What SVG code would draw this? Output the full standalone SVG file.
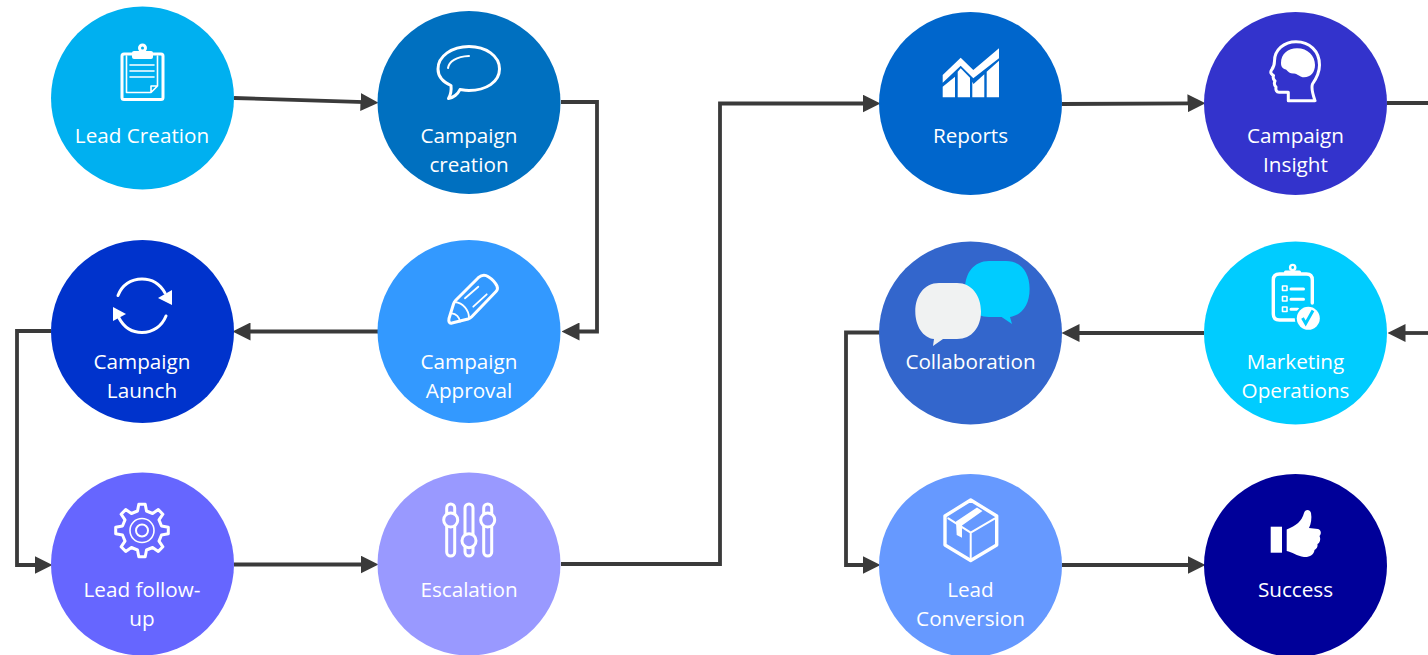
<svg xmlns="http://www.w3.org/2000/svg" width="1428" height="655" viewBox="0 0 1428 655">
<style>
text{font-family:"Open Sans","Noto Sans","Liberation Sans",sans-serif;font-size:20.700px;fill:#fff;text-anchor:middle}
.c{fill:none;stroke:#3a3a3a;stroke-width:3.800}
.i{fill:none;stroke:#fff;stroke-width:3;stroke-linejoin:round;stroke-linecap:round}
.t{stroke-width:1.600}
.f{fill:#fff;stroke:none}
</style>
<defs>
<marker id="a" markerUnits="userSpaceOnUse" markerWidth="18" markerHeight="18" refX="4" refY="8" orient="auto" viewBox="0 0 16 16"><path d="M0 0L16 8L0 16Z" fill="#3a3a3a"/></marker>
</defs>
<rect width="1428" height="655" fill="#fff"/>
<g id="connectors">
<path class="c" marker-end="url(#a)" d="M234 98L365 102.200"/>
<path class="c" marker-end="url(#a)" d="M561 102H597V331.500H575"/>
<path class="c" marker-end="url(#a)" d="M378 331.500H246"/>
<path class="c" marker-end="url(#a)" d="M51 331H17V565H39"/>
<path class="c" marker-end="url(#a)" d="M234 564.500H365"/>
<path class="c" marker-end="url(#a)" d="M561 564H720V103.500H867"/>
<path class="c" marker-end="url(#a)" d="M1062 104L1192 103.300"/>
<path class="c" d="M1387 103H1428"/>
<path class="c" marker-end="url(#a)" d="M1428 333H1401"/>
<path class="c" marker-end="url(#a)" d="M1204 333H1075"/>
<path class="c" marker-end="url(#a)" d="M880 332.500H846V565H867"/>
<path class="c" marker-end="url(#a)" d="M1062 565H1192"/>
</g>
<g id="lead-creation">
<circle cx="142.500" cy="98" r="91.500" fill="#00b0f0"/>
<rect class="i" x="122" y="54" width="41" height="45.500" rx="2"/>
<path class="i t" d="M126.500 56V92.500H151L157.500 86V56M151 92.500V86H157.500M130 65H154M130 71H154M130 77H154"/>
<circle class="i" cx="142.500" cy="48" r="3"/>
<rect class="f" x="132" y="51" width="21" height="8" rx="2"/>
<text x="142" y="143">Lead Creation</text>
</g>
<g id="campaign-creation">
<circle cx="469" cy="102.500" r="91.500" fill="#0070c0"/>
<path class="i" d="M469 46.500C486 46.500 499.500 56 499.500 69C499.500 82 486 90.500 469 90.500C466 90.500 463 90 460 89.500C458 94 453 98 448.500 98.500C450.500 95 451.500 90 451 85.500C443 82 438 76 438 69C438 56 452 46.500 469 46.500Z"/>
<path class="i" style="stroke-width:2" d="M448 68C449 62 456 56.500 469 56"/>
<text x="469" y="143">Campaign</text>
<text x="469" y="172">creation</text>
</g>
<g id="campaign-launch">
<circle cx="142.500" cy="331.500" r="91.500" fill="#0033cc"/>
<path class="i" d="M118 295.500C122 285 131 279 142 279C152 279 160 284 165 293"/>
<path class="f" d="M172 290V305L158 298Z"/>
<path class="i" d="M166 316C162 326 153 332.500 142 332.500C132 332.500 124 327.500 119 318"/>
<path class="f" d="M113 307V321L126 314Z"/>
<text x="142" y="369">Campaign</text>
<text x="142" y="398">Launch</text>
</g>
<g id="campaign-approval">
<circle cx="469" cy="331.500" r="91.500" fill="#3399ff"/>
<path class="i" d="M478.300 277.700C482 274.500 485 274.500 488.300 276.700C492 279 495 282 497 286C497.800 288 497.500 290 496 291.500L471.700 316.700C470.500 318 469.500 318.500 468 319L452 323C449 323.800 448.500 321 449 318.500L453.500 304C454 302.500 454.500 301.500 455.500 300.500Z"/>
<path class="i" style="stroke-width:1.800" d="M455 302C463 303 469 310 469 318M465 298.300L478.300 286.700M473.300 306.700L486.700 294.300M451.700 313.300C456 313.500 459.500 317 460 321.700"/>
<text x="469" y="369">Campaign</text>
<text x="469" y="398">Approval</text>
</g>
<g id="lead-follow-up">
<circle cx="142.500" cy="564" r="91.500" fill="#6666ff"/>
<g transform="translate(142 530.500)">
<path class="i" d="M-4.500-19.500L-3.200-26.300H3.200L4.500-19.500L10.600-17L16.300-20.900L20.900-16.300L17-10.600L19.500-4.500L26.300-3.200V3.200L19.500 4.500L17 10.600L20.900 16.300L16.300 20.900L10.600 17L4.500 19.500L3.200 26.300H-3.200L-4.500 19.500L-10.600 17L-16.300 20.900L-20.900 16.300L-17 10.600L-19.500 4.500L-26.300 3.200V-3.200L-19.500-4.500L-17-10.600L-20.900-16.300L-16.300-20.900L-10.600-17Z"/>
<circle class="i t" r="12"/><circle class="i" style="stroke-width:2" r="6"/>
</g>
<text x="142" y="597">Lead follow-</text>
<text x="142" y="626">up</text>
</g>
<g id="escalation">
<circle cx="469" cy="564" r="91.500" fill="#9999ff"/>
<rect class="i" x="446.700" y="504" width="8" height="52" rx="4"/>
<rect class="i" x="465" y="504" width="8" height="52" rx="4"/>
<rect class="i" x="483.700" y="504" width="8" height="52" rx="4"/>
<circle class="i" cx="450.700" cy="520" r="7" style="fill:#9999ff"/>
<circle class="i" cx="469" cy="540.700" r="7" style="fill:#9999ff"/>
<circle class="i" cx="487.700" cy="520" r="7" style="fill:#9999ff"/>
<text x="469" y="597">Escalation</text>
</g>
<g id="reports">
<circle cx="970.500" cy="103.500" r="91.500" fill="#0066cc"/>
<path class="f" d="M942.700 75L960.700 57.700L973.300 70L999 48.300V58.300L973.300 78.300L960.700 65.700L942.700 82.700Z"/>
<path class="f" d="M942.700 97.300V86.700L955 76.700V97.300ZM957.700 97.300V71.700L960.700 68.300L970 77.700V97.300ZM972.300 97.300V81.700L973.500 84L984.300 74.300V97.300ZM986.700 97.300V71.700L999 60.700V97.300Z"/>
<text x="970.500" y="143">Reports</text>
</g>
<g id="campaign-insight">
<circle cx="1295.500" cy="103.500" r="91.500" fill="#3333cc"/>
<path class="i" d="M1315 100.700H1288.300V92.300H1279C1276.500 92.300 1275.500 90 1276 87C1274 85 1274 83 1275 81C1272.500 79 1273 77 1273.500 75.500C1271 74 1270 72.500 1271.500 70C1274 67 1274.500 65 1274.500 61C1274.500 50 1284 41.700 1296 41.700C1309.500 41.700 1319.500 51 1319.500 65C1319.500 73 1316 79 1312.500 84C1311 88 1313 95 1315 100.700Z"/>
<path class="f" d="M1281 63C1281 54 1288 48.300 1297 48.300C1308 48.300 1315 56 1315 65C1315 72 1311 77.300 1304 77.300C1300 77.300 1298 74 1294 73.500C1291 74 1288 72 1286 69.500C1283 69 1281 67 1281 63Z"/>
<text x="1295.500" y="143">Campaign</text>
<text x="1295.500" y="172">Insight</text>
</g>
<g id="collaboration">
<circle cx="970.500" cy="333" r="91.500" fill="#3366cc"/>
<path fill="#00ccff" d="M1001.600 317H989C974 317 965 305 965 289C965 273 974 261 989 261H1006C1021 261 1029.600 273 1029.600 289C1029.600 305 1022 315 1010 317L1012 324Z"/>
<path fill="#f0f2f2" d="M939 283H957C972 283 981 296 981 311.500C981 327 972 339 957 339H943L933 346L934 339C923 338 915.300 326 915.300 311.500C915.300 296 924 283 939 283Z"/>
<text x="970.500" y="369">Collaboration</text>
</g>
<g id="marketing-operations">
<circle cx="1295.500" cy="333" r="91.500" fill="#00ccff"/>
<path class="i" style="stroke-width:3.400" d="M1312.300 303V280C1312.300 276 1310 274 1306.500 274H1279.500C1275.500 274 1273.300 276 1273.300 280V314C1273.300 318 1275.500 320 1279.500 320H1298"/>
<circle class="i" cx="1292.700" cy="267.500" r="2.600" style="stroke-width:2.400"/>
<rect class="f" x="1284" y="270.500" width="17" height="4.500" rx="1.500"/>
<rect class="i t" x="1282.500" y="286" width="4.500" height="4.500"/>
<rect class="i t" x="1282.500" y="296.500" width="4.500" height="4.500"/>
<rect class="i t" x="1282.500" y="307" width="4.500" height="4.500"/>
<path class="i" d="M1291 289H1303.500M1291 299.300H1303.500M1291 309.300H1298"/>
<circle cx="1308.300" cy="318.300" r="13.500" fill="#00ccff"/>
<circle cx="1308.300" cy="318.300" r="11.500" fill="#fff"/>
<path fill="none" stroke="#00ccff" stroke-width="3" d="M1302.500 318L1305.700 323.500L1313 310.500"/>
<text x="1295.500" y="369">Marketing</text>
<text x="1295.500" y="398">Operations</text>
</g>
<g id="lead-conversion">
<circle cx="970.500" cy="565.500" r="91.500" fill="#6699ff"/>
<path class="i" style="stroke-width:3.400" d="M970.700 500L996.700 516V545L970.700 560.500L945 545V516Z"/>
<path class="i" style="stroke-width:2" d="M948.300 518.300L970.700 532.700L995 518.300M970.700 532.700V560"/>
<path class="f" d="M956 521.500L977 507.500L982.500 511L962 525.500V537.700L956.700 535Z"/>
<text x="970.500" y="597">Lead</text>
<text x="970.500" y="626">Conversion</text>
</g>
<g id="success">
<circle cx="1295.500" cy="565.500" r="91.500" fill="#000099"/>
<rect class="f" x="1270.700" y="526.700" width="11.300" height="26"/>
<path class="f" d="M1286.700 529.500C1296 526 1302 521 1304 513C1305 509 1310 509 1311 513C1312 518 1311 524 1309 528L1318 529C1321.500 530 1321.500 534 1319.500 536C1321 539 1320 543 1317.500 544C1318 547 1316.500 549 1314.500 550C1314 555 1309 557.500 1304 557C1297 556 1292 552 1286.700 551Z"/>
<text x="1295.500" y="597">Success</text>
</g>
</svg>
